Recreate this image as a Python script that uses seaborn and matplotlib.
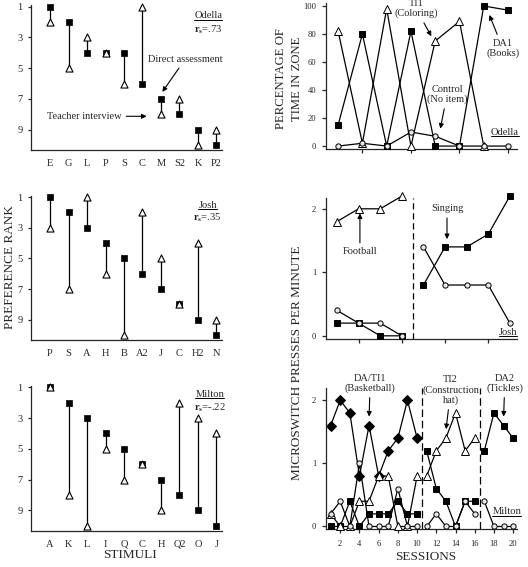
import numpy as np
import pandas as pd
import matplotlib
matplotlib.use("Agg")
import matplotlib.pyplot as plt
from matplotlib.lines import Line2D
import seaborn as sns

# ---------------- data ----------------
odella_stim = ["E", "G", "L", "P", "S", "C", "M", "S2", "K", "P2"]
odella_direct = [1, 2, 4, 4, 4, 6, 7, 8, 9, 10]
odella_teacher = [2, 5, 3, 4, 6, 1, 8, 7, 10, 9]

josh_stim = ["P", "S", "A", "H", "B", "A2", "J", "C", "H2", "N"]
josh_direct = [1, 2, 3, 4, 5, 6, 7, 8, 9, 10]
josh_teacher = [3, 7, 1, 6, 10, 2, 5, 8, 4, 9]

milton_stim = ["A", "K", "L", "I", "Q", "C", "H", "Q2", "O", "J"]
milton_direct = [1, 2, 3, 4, 5, 6, 7, 8, 9, 10]
milton_teacher = [1, 8, 10, 5, 7, 6, 9, 2, 3, 4]

# Odella zone time (%)
od_sessions = [1, 2, 3, 4, 5, 6, 7, 8]
od_da1 = [15, 80, 0, 82, 0, 0, 100, 97]
od_ti1_sessions = [1, 2, 3, 4, 5, 6, 7]
od_ti1 = [82, 2, 98, 0, 75, 89, 0]
od_control = [0, 2, 0, 10, 7, 0, 0, 0]

# Josh presses per minute
josh_p1_sessions = [1, 2, 3, 4]
josh_p1_football = [1.8, 2.0, 2.0, 2.2]
josh_p1_singing = [0.2, 0.2, 0.0, 0.0]
josh_p1_control = [0.4, 0.2, 0.2, 0.0]
josh_p2_sessions = [5, 6, 7, 8, 9]
josh_p2_singing = [0.8, 1.4, 1.4, 1.6, 2.2]
josh_p2_control = [1.4, 0.8, 0.8, 0.8, 0.2]

# Milton presses per minute
mil_p1_sessions = [1, 2, 3, 4, 5, 6, 7, 8, 9, 10]
mil_p1_basketball = [1.6, 2.0, 1.8, 0.8, 1.6, 0.8, 1.2, 1.4, 2.0, 1.4]
mil_p1_tickles = [0.0, 0.0, 0.4, 0.0, 0.2, 0.2, 0.2, 0.4, 0.2, 0.2]
mil_p1_hat = [0.2, 0.0, 0.0, 0.4, 0.4, 0.8, 0.8, 0.0, 0.0, 0.8]
mil_p1_control = [0.2, 0.4, 0.0, 1.0, 0.0, 0.0, 0.0, 0.6, 0.0, 0.0]
mil_p2_sessions = [11, 12, 13, 14, 15, 16]
mil_p2_tickles = [1.2, 0.6, 0.4, 0.0, 0.4, 0.4]
mil_p2_hat = [0.8, 1.2, 1.4, 1.8, 1.2, 1.4]
mil_p2_control = [0.0, 0.2, 0.0, 0.0, 0.4, 0.2]
mil_p3_sessions = [17, 18, 19, 20]
mil_p3_tickles = [1.2, 1.8, 1.6, 1.4]
mil_p3_control = [0.4, 0.0, 0.0, 0.0]

# ---------------- style ----------------
sns.set_style("ticks")
plt.rcParams["font.family"] = ["Liberation Serif", "DejaVu Serif"]
plt.rcParams["mathtext.fontset"] = "custom"
plt.rcParams["mathtext.rm"] = "Liberation Serif"
plt.rcParams["mathtext.bf"] = "Liberation Serif:bold"
plt.rcParams["axes.linewidth"] = 0.9
plt.rcParams["xtick.major.width"] = 0.9
plt.rcParams["ytick.major.width"] = 0.9

W, H = 528, 567
fig = plt.figure(figsize=(W / 100, H / 100), dpi=100)


def add_ax(l, t, r, b):
    return fig.add_axes([l / W, 1 - b / H, (r - l) / W, (b - t) / H])


LW = 0.9
ANN = dict(arrowstyle="-|>", color="black", lw=0.8, mutation_scale=7, shrinkA=1, shrinkB=1)
underlines = []


def rank_panel(ax, stim, direct, teacher, name, rs, labpos):
    idx = np.arange(len(stim))
    ax.vlines(idx, direct, teacher, color="black", lw=LW, zorder=1, clip_on=False)
    sns.scatterplot(x=idx, y=direct, marker="s", s=22, color="black",
                    edgecolor="black", linewidth=0.5, zorder=3, ax=ax, clip_on=False)
    sns.scatterplot(x=idx, y=teacher, marker="^", s=26, color="white",
                    edgecolor="black", linewidth=0.8, zorder=4, ax=ax, clip_on=False)
    ax.set_xlim(-1.03, 9.3)
    ax.set_ylim(10.32, 0.9)
    ax.set_yticks([1, 3, 5, 7, 9])
    ax.set_xticks(idx)
    ax.set_xticklabels(stim)
    ax.tick_params(axis="x", length=0, pad=6.5, labelsize=7.5)
    ax.tick_params(axis="y", length=2.5, pad=3.5, labelsize=7.5, direction="out")
    ax.set_xlabel("")
    ax.set_ylabel("")
    sns.despine(ax=ax)
    x, y1, y2 = labpos
    t = ax.text(x, y1, name, ha="center", va="center", fontsize=7.6)
    underlines.append(t)
    ax.text(x, y2, r"$\mathbf{r}_{\mathbf{s}}$=" + rs, ha="center", va="center", fontsize=7.6)


axA1 = add_ax(31, 5, 222, 150)
axA2 = add_ax(31, 195.5, 222, 340)
axA3 = add_ax(31, 385.8, 222, 530.7)

rank_panel(axA1, odella_stim, odella_direct, odella_teacher, "Odella", ".73", (8.56, 1.61, 2.47))
rank_panel(axA2, josh_stim, josh_direct, josh_teacher, "Josh", ".35", (8.53, 1.52, 2.36))
rank_panel(axA3, milton_stim, milton_direct, milton_teacher, "Milton", "-.22", (8.64, 1.44, 2.29))

axA1.annotate("Direct assessment", xy=(6.03, 6.62), xytext=(7.31, 4.42),
              ha="center", va="center", fontsize=7.5, arrowprops=ANN)
axA1.annotate("Teacher interview", xy=(5.3, 8.13), xytext=(1.85, 8.13),
              ha="center", va="center", fontsize=7.5, arrowprops=ANN)

fig.text(10 / W, 1 - 267 / H, "PREFERENCE RANK", rotation=90, ha="center", va="center", fontsize=9.5)
fig.text(130 / W, 1 - 555 / H, "STIMULI", ha="center", va="center", fontsize=9.5)


def series(ax, x, y, marker, ms, fc, z, mew=0.7):
    df = pd.DataFrame({"session": x, "value": y})
    sns.lineplot(data=df, x="session", y="value", ax=ax, color="black", lw=LW,
                 marker=marker, markersize=ms, markerfacecolor=fc,
                 markeredgecolor="black", markeredgewidth=mew,
                 sort=False, estimator=None, zorder=z, clip_on=False)


def right_style(ax, xlim, ylim, xticks, yticks, show_xlabels):
    ax.set_xlim(*xlim)
    ax.set_ylim(*ylim)
    ax.set_xticks(xticks)
    ax.set_yticks(yticks)
    if not show_xlabels:
        ax.set_xticklabels([])
    ax.tick_params(axis="both", direction="out", length=3, labelsize=6.2)
    ax.tick_params(axis="x", pad=5)
    ax.tick_params(axis="y", pad=4)
    ax.set_xlabel("")
    ax.set_ylabel("")
    sns.despine(ax=ax)


SQ, TR, CI, DI = 5.0, 5.2, 3.8, 5.2

# ---- Odella (top right)
axB1 = add_ax(326, 3.3, 517, 149)
series(axB1, od_sessions, od_da1, "s", SQ, "black", 3)
series(axB1, od_ti1_sessions, od_ti1, "^", TR, "white", 4)
series(axB1, od_sessions, od_control, "o", CI, "#e8e8e8", 5)
right_style(axB1, (0.5, 8.37), (-2.1, 101.9), [2, 4, 6, 8], [0, 20, 40, 60, 80, 100], False)
axB1.annotate("TI1\n(Coloring)", xy=(4.87, 77.5), xytext=(4.21, 98),
              ha="center", va="center", fontsize=7.5, arrowprops=ANN,
              linespacing=1.1, annotation_clip=False)
axB1.annotate("DA1\n(Books)", xy=(7.21, 94.5), xytext=(7.79, 69.6),
              ha="center", va="center", fontsize=7.5, arrowprops=ANN, linespacing=1.1)
axB1.annotate("Control\n(No item)", xy=(5.2, 11.4), xytext=(5.49, 36.8),
              ha="center", va="center", fontsize=7.5, arrowprops=ANN, linespacing=1.1)
t = axB1.text(7.87, 10, "Odella", ha="center", va="center", fontsize=7.6)
underlines.append(t)
fig.text(289 / W, 1 - 79 / H, "PERCENTAGE OF\nTIME IN ZONE", rotation=90, ha="center",
         va="center", fontsize=9.2, linespacing=1.45, multialignment="center")

# ---- Josh (middle right)
axB2 = add_ax(326, 198, 517, 339)
series(axB2, josh_p1_sessions, josh_p1_singing, "s", SQ, "black", 3)
series(axB2, josh_p2_sessions, josh_p2_singing, "s", SQ, "black", 3)
series(axB2, josh_p1_sessions, josh_p1_football, "^", TR, "white", 4)
series(axB2, josh_p1_sessions, josh_p1_control, "o", CI, "#e8e8e8", 5)
series(axB2, josh_p2_sessions, josh_p2_control, "o", CI, "#e8e8e8", 5)
axB2.axvline(4.5, color="black", lw=LW, ls=(0, (5, 3)), zorder=1)
right_style(axB2, (0.49, 9.33), (-0.05, 2.17), [2, 4, 6, 8], [0, 1, 2], False)
axB2.annotate("Football", xy=(2.06, 1.95), xytext=(2.06, 1.32),
              ha="center", va="center", fontsize=7.5, arrowprops=ANN)
axB2.annotate("Singing", xy=(6.09, 1.5), xytext=(6.09, 2.0),
              ha="center", va="center", fontsize=7.5, arrowprops=ANN)
t = axB2.text(8.92, 0.06, "Josh", ha="center", va="center", fontsize=7.6)
underlines.append(t)

# ---- Milton (bottom right)
axB3 = add_ax(326, 387.7, 517, 529)
series(axB3, mil_p1_sessions, mil_p1_basketball, "D", DI, "black", 2)
series(axB3, mil_p1_sessions, mil_p1_tickles, "s", SQ, "black", 3)
series(axB3, mil_p2_sessions, mil_p2_tickles, "s", SQ, "black", 3)
series(axB3, mil_p3_sessions, mil_p3_tickles, "s", SQ, "black", 3)
series(axB3, mil_p1_sessions, mil_p1_hat, "^", TR, "white", 4)
series(axB3, mil_p2_sessions, mil_p2_hat, "^", TR, "white", 4)
series(axB3, mil_p1_sessions, mil_p1_control, "o", CI, "#e8e8e8", 5)
series(axB3, mil_p2_sessions, mil_p2_control, "o", CI, "#e8e8e8", 5)
series(axB3, mil_p3_sessions, mil_p3_control, "o", CI, "#e8e8e8", 5)
for xv in (10.5, 16.5):
    axB3.axvline(xv, color="black", lw=LW, ls=(0, (6, 3)), zorder=1)
right_style(axB3, (0.52, 20.4), (-0.04, 2.2), list(range(2, 21, 2)), [0, 1, 2], True)
axB3.annotate("DA/TI1\n(Basketball)", xy=(5.0, 1.72), xytext=(5.12, 2.27),
              ha="center", va="center", fontsize=7.5, arrowprops=ANN,
              linespacing=1.1, annotation_clip=False)
axB3.annotate("TI2\n(Construction\nhat)", xy=(13.0, 1.52), xytext=(13.5, 2.16),
              ha="center", va="center", fontsize=7.5, arrowprops=ANN,
              linespacing=1.1, annotation_clip=False)
axB3.annotate("DA2\n(Tickles)", xy=(19.0, 1.72), xytext=(19.13, 2.27),
              ha="center", va="center", fontsize=7.5, arrowprops=ANN,
              linespacing=1.1, annotation_clip=False)
t = axB3.text(19.34, 0.23, "Milton", ha="center", va="center", fontsize=7.6)
underlines.append(t)

fig.text(297 / W, 1 - 363 / H, "MICROSWITCH PRESSES PER MINUTE", rotation=90,
         ha="center", va="center", fontsize=9.5)
fig.text(426 / W, 1 - 557 / H, "SESSIONS", ha="center", va="center", fontsize=9.5)

# underline the participant names
fig.canvas.draw()
r = fig.canvas.get_renderer()
for t in underlines:
    bb = t.get_window_extent(renderer=r)
    yy = bb.y0 + 0.5
    fig.add_artist(Line2D([bb.x0 / W, bb.x1 / W], [yy / H, yy / H], color="black", lw=0.7))

fig.savefig("out.png", dpi=100)
